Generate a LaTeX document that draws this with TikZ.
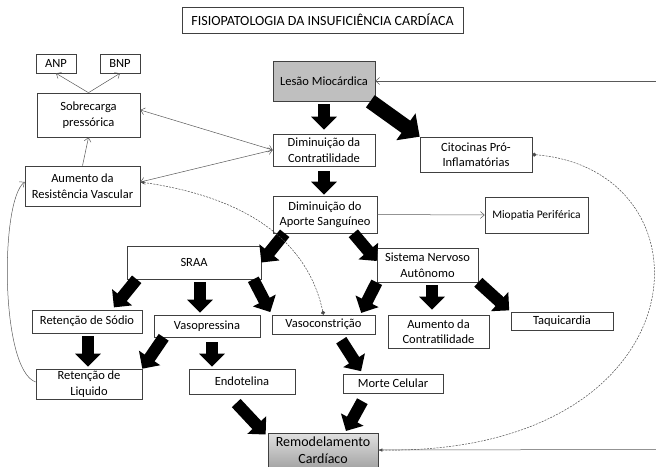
\documentclass[tikz,border=0pt]{standalone}
\usepackage{fontspec}
\setmainfont{Carlito}
\usetikzlibrary{arrows.meta, positioning, calc}

\begin{document}
\begin{tikzpicture}[x=1pt, y=-1pt,
    box/.style={draw=black!75, line width=0.6pt, inner sep=1pt, align=center, font=\fontsize{12.5}{15.5}\selectfont},
    fat/.style={line width=12pt, -{Triangle[width=25pt,length=13pt]}},
    bigfat/.style={line width=15pt, -{Triangle[width=32pt,length=17pt]}},
    link/.style={draw=black!65, line width=0.5pt, >={Straight Barb[length=4pt,width=7pt]}},
    dotlink/.style={draw=black!70, line width=0.5pt, dash pattern=on 2pt off 1.2pt, {Circle[length=4pt]}-{Latex[length=4pt,width=3.5pt]}}
]
    \clip (0,0) rectangle (656,466);

    % boxes
    \node[box, minimum width=281pt, minimum height=26pt, font=\fontsize{14}{16}\selectfont] (title) at (322.5,20) {FISIOPATOLOGIA DA INSUFICIÊNCIA CARDÍACA};
    \node[box, minimum width=40pt, minimum height=19pt] (anp) at (56,63.5) {ANP};
    \node[box, minimum width=40pt, minimum height=19pt] (bnp) at (120,63.5) {BNP};
    \node[box, minimum width=103pt, minimum height=44pt] (sobre) at (88.5,115) {Sobrecarga\\pressórica};
    \node[box, minimum width=115pt, minimum height=40pt] (aumres) at (82.5,186) {Aumento da\\Resistência Vascular};
    \node[box, fill=black!25, minimum width=102pt, minimum height=40pt, font=\fontsize{12.5}{15}\selectfont] (lesao) at (324,81) {Lesão Miocárdica};
    \node[box, minimum width=102pt, minimum height=32pt] (contr) at (324,150) {Diminuição da\\Contratilidade};
    \node[box, minimum width=112pt, minimum height=35pt] (citoc) at (476,154.5) {Citocinas Pró-\\Inflamatórias};
    \node[box, minimum width=104pt, minimum height=37pt] (aporte) at (325,214.5) {Diminuição do\\Aporte Sanguíneo};
    \node[box, minimum width=103pt, minimum height=36pt, font=\fontsize{11.5}{14}\selectfont] (miop) at (536.5,215) {Miopatia Periférica};
    \node[box, minimum width=134pt, minimum height=33pt] (sraa) at (194,262.5) {SRAA};
    \node[box, minimum width=101pt, minimum height=34pt] (sna) at (427.5,265) {Sistema Nervoso\\Autônomo};
    \node[box, minimum width=110pt, minimum height=23pt] (sodio) at (87,321.5) {Retenção de Sódio};
    \node[box, minimum width=106pt, minimum height=22pt] (vasop) at (207,326) {Vasopressina};
    \node[box, minimum width=103pt, minimum height=19pt] (vasoc) at (323.5,324.5) {Vasoconstrição};
    \node[box, minimum width=101pt, minimum height=33pt] (aumcon) at (438.5,331.5) {Aumento da\\Contratilidade};
    \node[box, minimum width=102pt, minimum height=18pt] (taqui) at (562,321) {Taquicardia};
    \node[box, minimum width=106pt, minimum height=30pt] (liquido) at (89,384) {Retenção de\\Liquido};
    \node[box, minimum width=106pt, minimum height=25pt] (endot) at (242,381.5) {Endotelina};
    \node[box, minimum width=100pt, minimum height=19pt] (morte) at (393,383.5) {Morte Celular};
    \node[box, top color=black!12, bottom color=black!35, minimum width=110pt, minimum height=34pt, font=\fontsize{14}{17}\selectfont] (remod) at (323,450) {Remodelamento\\Cardíaco};

    \coordinate (inlesao) at (656,81);
    \coordinate (outremod) at (656,449.5);

    % block arrows
    \draw[fat, shorten <=3pt, shorten >=4pt] (lesao.south) -- (contr.north);
    \draw[bigfat] ([xshift=-5pt]lesao.south east) -- (citoc.north west);
    \draw[fat, shorten <=5pt, shorten >=1pt] (contr.south) -- (contr.south |- aporte.north);
    \draw[fat] ([xshift=12pt]aporte.south west) -- (sraa.east);
    \draw[fat] ([xshift=-24pt]aporte.south east) -- ([yshift=4pt]sna.west);
    \draw[fat, shorten >=3pt] ([xshift=10pt]sraa.south west) -- ([xshift=25pt]sodio.north);
    \draw[fat, shorten <=3pt, shorten >=2pt] ([xshift=6pt]sraa.south) -- ([xshift=-7pt]vasop.north);
    \draw[fat, shorten >=3pt] ([xshift=-8pt]sraa.south east) -- (vasoc.north west);
    \draw[fat, shorten >=2pt] (sna.south west) -- ([xshift=-15pt]vasoc.north east);
    \draw[fat, shorten <=3pt, shorten >=5pt] ([xshift=4.5pt]sna.south) -- ([xshift=-6.5pt]aumcon.north);
    \draw[fat, shorten >=2pt] (sna.south east) -- (taqui.north west);
    \draw[fat, shorten <=3pt, shorten >=2pt] ([xshift=1pt]sodio.south) -- ([xshift=-1pt]liquido.north);
    \draw[fat] ([xshift=10pt]vasop.south west) -- (liquido.north east);
    \draw[fat, shorten <=5pt, shorten >=2pt] ([xshift=5pt]vasop.south) -- ([xshift=-30pt]endot.north);
    \draw[fat, shorten <=7pt, shorten >=3pt] ([xshift=14pt]vasoc.south) -- ([xshift=20pt]morte.north west);
    \draw[fat, shorten <=9pt, shorten >=2pt] ([xshift=24pt]morte.south west) -- ([xshift=22pt]remod.north);
    \draw[fat, shorten <=12pt, shorten >=3pt] ([xshift=-14pt]endot.south) -- ([yshift=-4pt]remod.north west);

    % thin links
    \draw[link, ->] (sobre.north) -- (anp.south);
    \draw[link, ->] (sobre.north) -- (bnp.south);
    \draw[link, ->] (aumres.north) -- (sobre.south);
    \draw[link, <->] ([yshift=5pt]sobre.east) -- (contr.west);
    \draw[link, <->] ([yshift=4pt]aumres.east) -- (contr.west);
    \draw[link, ->] (aporte.east) -- (miop.west);
    \draw[link, ->] (inlesao) -- (lesao.east);
    \draw[link] (remod.east) -- (outremod);
    \draw[link, ->] ([yshift=2pt]liquido.west) .. controls (0,370) and (0,200) .. ([yshift=4pt]aumres.west);
    \draw[dotlink] (vasoc.north) .. controls (305,230) and (230,195) .. ([yshift=4pt]aumres.east);
    \draw[dotlink] (citoc.east) .. controls (720,170) and (705,455) .. (remod.east);
\end{tikzpicture}
\end{document}
